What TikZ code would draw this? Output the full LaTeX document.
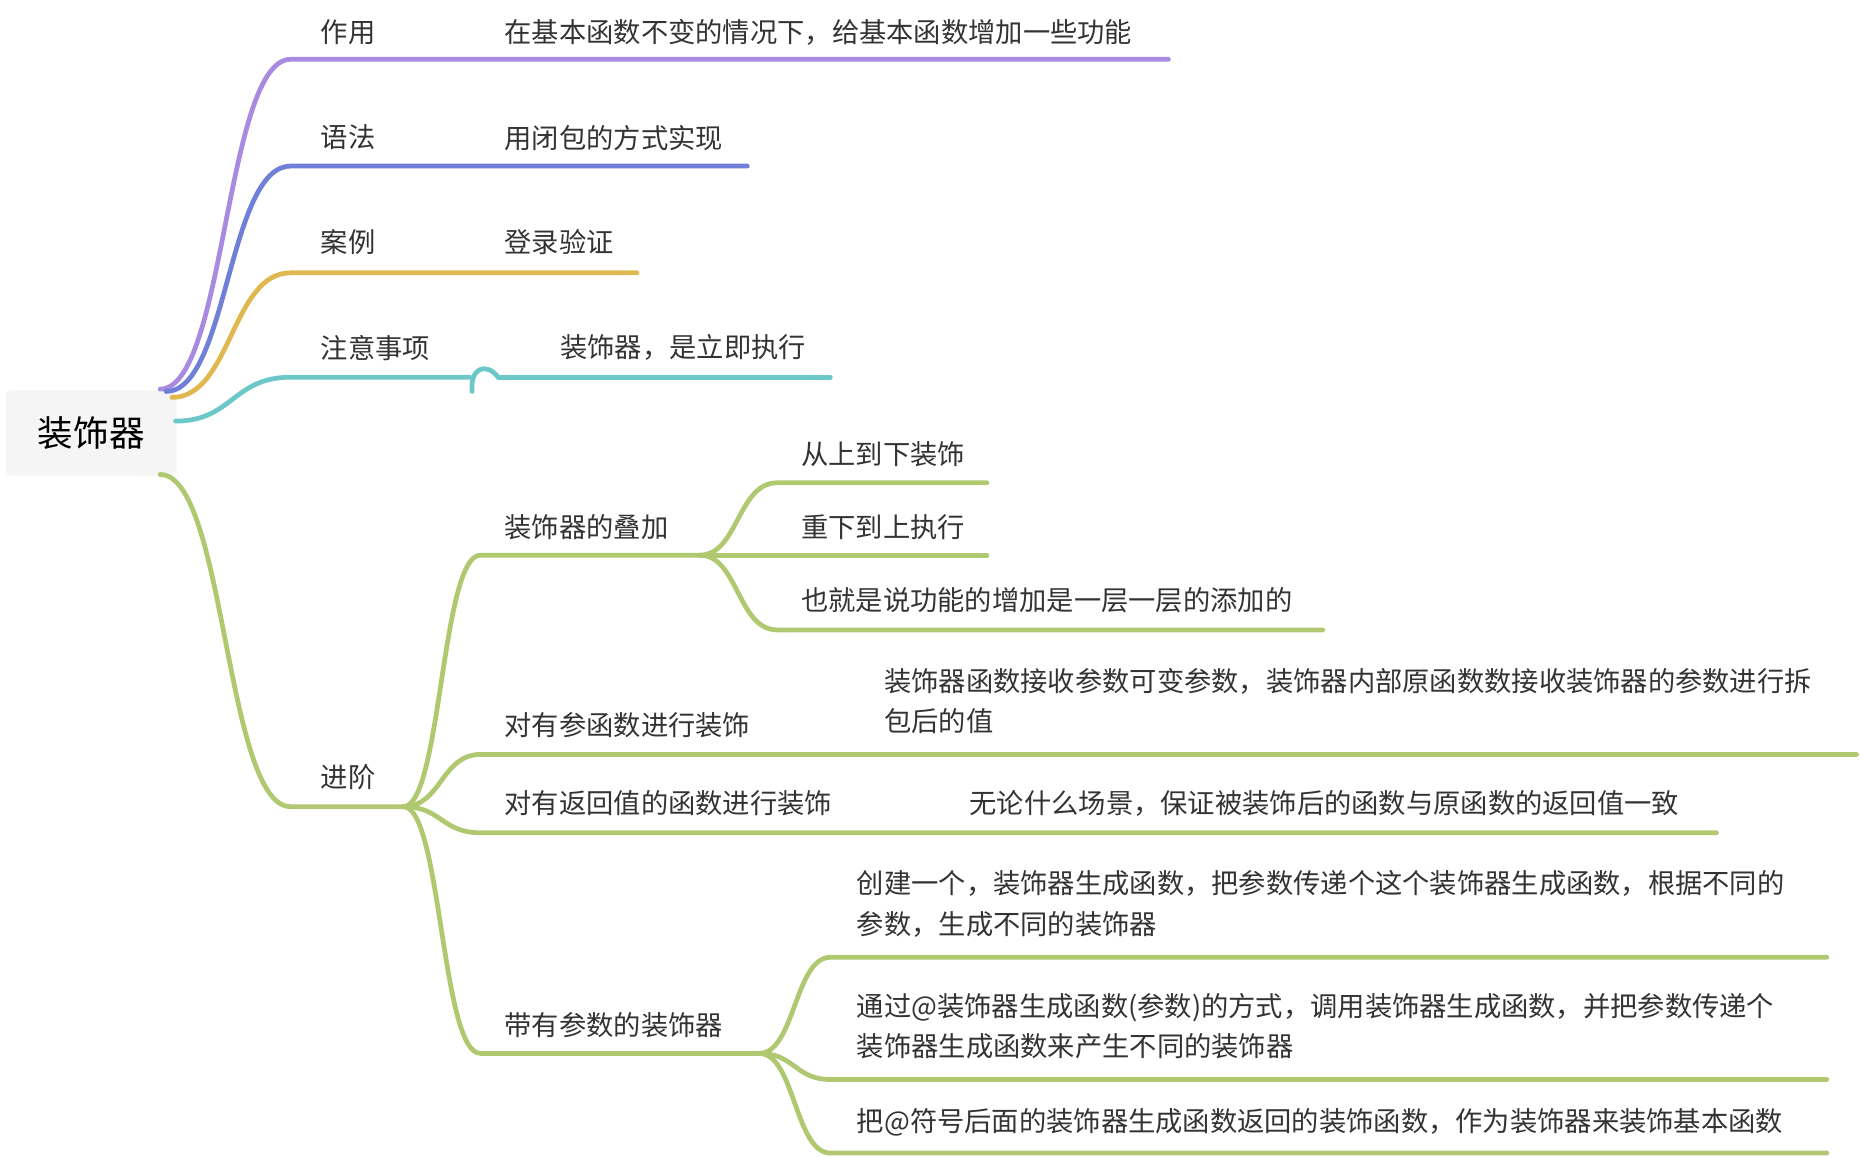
\documentclass[tikz,border=0pt]{standalone}
\usepackage{fontspec}
\setmainfont{Noto Sans CJK SC}
\begin{document}
\begin{tikzpicture}[x=0.5pt,y=-0.5pt]
\definecolor{cpur}{HTML}{A88BE0}
\definecolor{cblu}{HTML}{7080D8}
\definecolor{cyel}{HTML}{E0B850}
\definecolor{ctea}{HTML}{6CC8C8}
\definecolor{cgrn}{HTML}{B0C870}
\tikzset{br/.style={line width=2pt,line cap=round},
 lab/.style={anchor=west,font=\fontsize{11.5pt}{17pt}\selectfont,text=black!80,inner sep=0pt,align=left}}
\useasboundingbox (0,0) rectangle (1568,975);
\node[fill=black!4,rounded corners=2pt,minimum width=72pt,minimum height=36pt,font=\fontsize{15pt}{18pt}\selectfont] (root) at (77,365) {装饰器};
% first level
\draw[br,cpur] (135,328) .. controls (190,328) and (190,50) .. (245,50) -- (985,50);
\draw[br,cblu] (140,330) .. controls (192,330) and (192,140) .. (245,140) -- (630,140);
\draw[br,cyel] (145,335) .. controls (195,335) and (195,230) .. (245,230) -- (537,230);
\draw[br,ctea] (148,355) .. controls (196,355) and (196,318) .. (245,318) -- (396,318);
\draw[br,ctea] (420,318) -- (700,318);
\draw[br,ctea] (398,330) .. controls (396,310) and (410,305) .. (420,318);
\draw[br,cgrn] (135,400) .. controls (190,400) and (190,680) .. (245,680) -- (340,680);
\node[lab] (a1) at (270,27) {作用};
\node[lab] (a2) at (425,27) {在基本函数不变的情况下，给基本函数增加一些功能};
\node[lab] (b1) at (270,116) {语法};
\node[lab] (b2) at (425,116) {用闭包的方式实现};
\node[lab] (c1) at (270,204) {案例};
\node[lab] (c2) at (425,204) {登录验证};
\node[lab] (d1) at (270,293) {注意事项};
\node[lab] (d2) at (472,293) {装饰器，是立即执行};
\node[lab] (e1) at (270,655) {进阶};
% second level
\draw[br,cgrn] (340,680) .. controls (372,680) and (372,468) .. (405,468) -- (590,468);
\draw[br,cgrn] (340,680) .. controls (372,680) and (372,636) .. (405,636) -- (1565,636);
\draw[br,cgrn] (340,680) .. controls (372,680) and (372,702) .. (405,702) -- (1447,702);
\draw[br,cgrn] (340,680) .. controls (372,680) and (372,888) .. (405,888) -- (640,888);
\node[lab] at (425,444) {装饰器的叠加};
\node[lab] at (425,611) {对有参函数进行装饰};
\node[lab] at (745,591) {装饰器函数接收参数可变参数，装饰器内部原函数数接收装饰器的参数进行拆\\包后的值};
\node[lab] at (425,677) {对有返回值的函数进行装饰};
\node[lab] at (817,677) {无论什么场景，保证被装饰后的函数与原函数的返回值一致};
\node[lab] at (425,864) {带有参数的装饰器};
% third level
\draw[br,cgrn] (590,468) .. controls (622,468) and (622,407) .. (655,407) -- (832,407);
\draw[br,cgrn] (590,468) -- (832,468);
\draw[br,cgrn] (590,468) .. controls (622,468) and (622,531) .. (655,531) -- (1115,531);
\node[lab] at (675,383) {从上到下装饰};
\node[lab] at (675,444) {重下到上执行};
\node[lab] at (675,506) {也就是说功能的增加是一层一层的添加的};
\draw[br,cgrn] (640,888) .. controls (670,888) and (670,807) .. (700,807) -- (1540,807);
\draw[br,cgrn] (640,888) .. controls (670,888) and (670,910) .. (700,910) -- (1540,910);
\draw[br,cgrn] (640,888) .. controls (670,888) and (670,972) .. (700,972) -- (1540,972);
\node[lab] at (722,762) {创建一个，装饰器生成函数，把参数传递个这个装饰器生成函数，根据不同的\\参数，生成不同的装饰器};
\node[lab] at (722,865) {通过@装饰器生成函数(参数)的方式，调用装饰器生成函数，并把参数传递个\\装饰器生成函数来产生不同的装饰器};
\node[lab] at (722,946) {把@符号后面的装饰器生成函数返回的装饰函数，作为装饰器来装饰基本函数};
\end{tikzpicture}
\end{document}
